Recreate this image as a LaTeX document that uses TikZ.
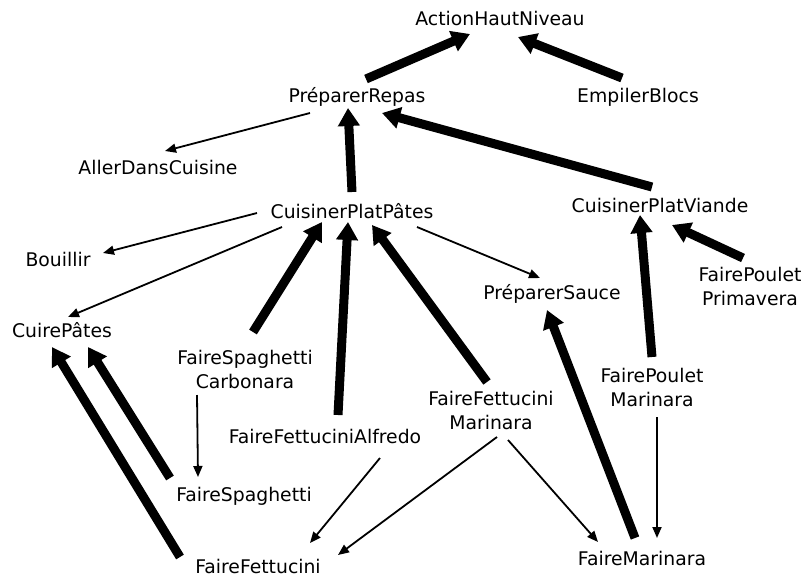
\documentclass[tikz,border=0pt]{standalone}
\usepackage{fontspec}
\setmainfont{DejaVu Sans}
\usetikzlibrary{arrows.meta}

\tikzset{
  lbl/.style={anchor=base, inner sep=0pt, align=center,
              font=\fontsize{18.8}{24}\selectfont},
  big/.style={line width=9pt, -{Triangle[length=18pt,width=21pt]}},
  small/.style={line width=1.8pt, -{Triangle[length=11pt,width=9pt]}},
}

\begin{document}
\begin{tikzpicture}[x=1pt, y=-1pt]
  \useasboundingbox[fill=white] (0,0) rectangle (809,579);

  % actions (anchored at the baseline of the last line)
  \node[lbl] (ahn) at (500,25)  {ActionHautNiveau};
  \node[lbl] (pr)  at (357,102) {PréparerRepas};
  \node[lbl] (eb)  at (638,102) {EmpilerBlocs};
  \node[lbl] (adc) at (158,174) {AllerDansCuisine};
  \node[lbl] (cpp) at (352,218) {CuisinerPlatPâtes};
  \node[lbl] (cpv) at (660,212) {CuisinerPlatViande};
  \node[lbl] (bou) at (58,266)  {Bouillir};
  \node[lbl] (ps)  at (552,299) {PréparerSauce};
  \node[lbl] (fpp) at (750,305) {FairePoulet\\Primavera};
  \node[lbl] (cui) at (62,337)  {CuirePâtes};
  \node[lbl] (fsc) at (245,388) {FaireSpaghetti\\Carbonara};
  \node[lbl] (fpm) at (652,406) {FairePoulet\\Marinara};
  \node[lbl] (ffm) at (491,429) {FaireFettucini\\Marinara};
  \node[lbl] (ffa) at (325,443) {FaireFettuciniAlfredo};
  \node[lbl] (fs)  at (244,501) {FaireSpaghetti};
  \node[lbl] (fm)  at (642,565) {FaireMarinara};
  \node[lbl] (ff)  at (258,573) {FaireFettucini};

  % refinement links (thick)
  \draw[big] ([shift={(9,-23)}]pr.base)   -- ([shift={(-30,9)}]ahn.base);
  \draw[big] ([shift={(-16,-24)}]eb.base) -- ([shift={(18,12)}]ahn.base);
  \draw[big] ([shift={(0,-26)}]cpp.base)  -- ([shift={(-9,6)}]pr.base);
  \draw[big] ([shift={(-8,-25)}]cpv.base) -- ([shift={(25,11)}]pr.base);
  \draw[big] ([shift={(8,-56)}]fsc.base)  -- ([shift={(-30,4)}]cpp.base);
  \draw[big] ([shift={(13,-28)}]ffa.base) -- ([shift={(-4,4)}]cpp.base);
  \draw[big] ([shift={(-4,-47)}]ffm.base) -- ([shift={(20,7)}]cpp.base);
  \draw[big] ([shift={(-74,-23)}]fs.base) -- ([shift={(26,10)}]cui.base);
  \draw[big] ([shift={(-78,-16)}]ff.base) -- ([shift={(-10,10)}]cui.base);
  \draw[big] ([shift={(-7,-27)}]fm.base)  -- ([shift={(-5,11)}]ps.base);
  \draw[big] ([shift={(0,-49)}]fpm.base)  -- ([shift={(-20,3)}]cpv.base);
  \draw[big] ([shift={(-7,-47)}]fpp.base) -- ([shift={(12,13)}]cpv.base);

  % decomposition links (thin)
  \draw[small] ([shift={(-47,11)}]pr.base)  -- ([shift={(7,-23)}]adc.base);
  \draw[small] ([shift={(-95,-5)}]cpp.base) -- ([shift={(45,-13)}]bou.base);
  \draw[small] ([shift={(-70,9)}]cpp.base)  -- ([shift={(6,-20)}]cui.base);
  \draw[small] ([shift={(65,9)}]cpp.base)   -- ([shift={(-12,-21)}]ps.base);
  \draw[small] ([shift={(-48,7)}]fsc.base)  -- ([shift={(-46,-24)}]fs.base);
  \draw[small] ([shift={(55,15)}]ffa.base)  -- ([shift={(52,-30)}]ff.base);
  \draw[small] ([shift={(6,8)}]ffm.base)    -- ([shift={(80,-18)}]ff.base);
  \draw[small] ([shift={(17,11)}]ffm.base)  -- ([shift={(-44,-23)}]fm.base);
  \draw[small] ([shift={(5,11)}]fpm.base)   -- ([shift={(15,-27)}]fm.base);
\end{tikzpicture}
\end{document}
